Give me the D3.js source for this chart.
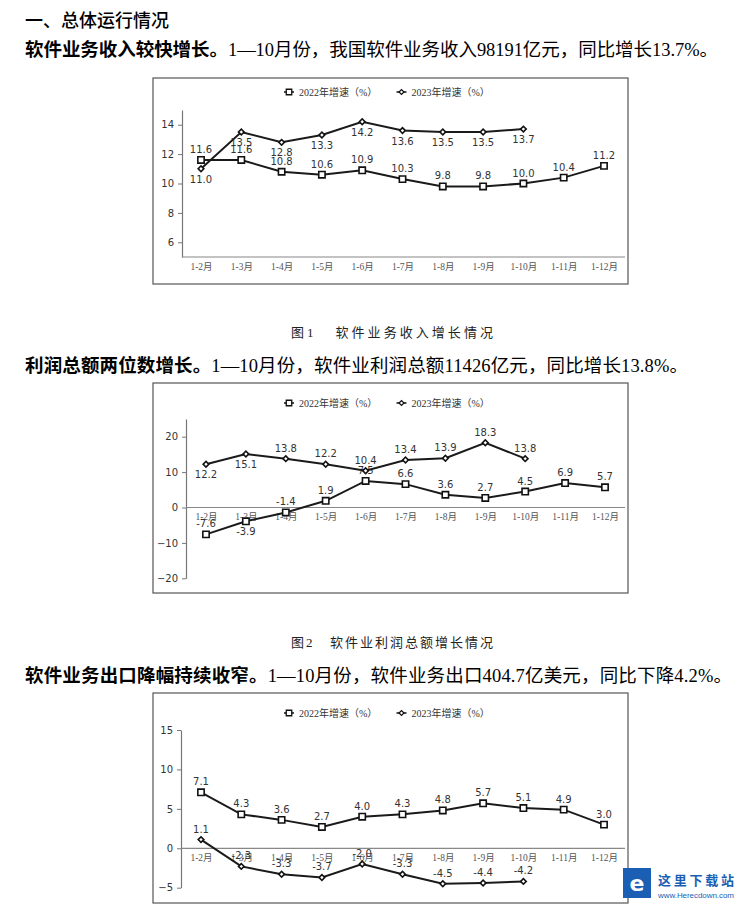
<!DOCTYPE html>
<html>
<head>
<meta charset="utf-8">
<style>
  body { margin: 0; background: #fff; }
  svg text { font-family: "Liberation Serif", "Noto Sans CJK SC", serif; }
</style>
</head>
<body>
<div id="viz"></div>
<script src="https://d3js.org/d3.v7.min.js"></script>
<script>
// data
const months = ["1-2月", "1-3月", "1-4月", "1-5月", "1-6月", "1-7月", "1-8月", "1-9月", "1-10月", "1-11月", "1-12月"];
const seriesNames = ["2022年增速（%）", "2023年增速（%）"];

const revenue2022 = [11.6, 11.6, 10.8, 10.6, 10.9, 10.3, 9.8, 9.8, 10.0, 10.4, 11.2];
const revenue2023 = [11.0, 13.5, 12.8, 13.3, 14.2, 13.6, 13.5, 13.5, 13.7];
const revenueTicks = [6, 8, 10, 12, 14];

const profit2022 = [-7.6, -3.9, -1.4, 1.9, 7.5, 6.6, 3.6, 2.7, 4.5, 6.9, 5.7];
const profit2023 = [12.2, 15.1, 13.8, 12.2, 10.4, 13.4, 13.9, 18.3, 13.8];
const profitTicks = [-20, -10, 0, 10, 20];

const export2022 = [7.1, 4.3, 3.6, 2.7, 4.0, 4.3, 4.8, 5.7, 5.1, 4.9, 3.0];
const export2023 = [1.1, -2.3, -3.3, -3.7, -2.0, -3.3, -4.5, -4.4, -4.2];
const exportTicks = [-5, 0, 5, 10, 15];

const width = 741,
      height = 905;

const svg = d3.select("#viz").append("svg")
    .attr("width", width)
    .attr("height", height);

// headings and captions
function heading(y, bold, rest, len) {
  const t = svg.append("text")
      .attr("x", 25)
      .attr("y", y)
      .attr("font-size", 18.5)
      .attr("fill", "#000");
  if (len) t.attr("textLength", len).attr("lengthAdjust", "spacing");
  t.append("tspan")
      .style("font-family", "Noto Sans CJK SC")
      .attr("font-weight", "bold")
      .text(bold);
  if (rest) t.append("tspan").text(rest);
}

function caption(y, txt) {
  svg.append("text")
      .attr("x", 291)
      .attr("y", y)
      .attr("font-size", 13)
      .attr("fill", "#222")
      .attr("textLength", 202)
      .attr("lengthAdjust", "spacing")
      .attr("xml:space", "preserve")
      .text(txt);
}

svg.append("text")
    .attr("x", 25)
    .attr("y", 27)
    .attr("font-size", 18)
    .style("font-family", "Noto Sans CJK SC")
    .attr("font-weight", 500)
    .text("一、总体运行情况");

heading(56, "软件业务收入较快增长。", "1—10月份，我国软件业务收入98191亿元，同比增长13.7%。", 693);
caption(337, "图1   软件业务收入增长情况");
heading(372, "利润总额两位数增长。", "1—10月份，软件业利润总额11426亿元，同比增长13.8%。", 663);
caption(647, "图2   软件业利润总额增长情况");
heading(682, "软件业务出口降幅持续收窄。", "1—10月份，软件业务出口404.7亿美元，同比下降4.2%。", 707);

function drawChart(c) {
  const g = svg.append("g");

  g.append("rect")
      .attr("x", c.box[0])
      .attr("y", c.box[1])
      .attr("width", c.box[2])
      .attr("height", c.box[3])
      .attr("fill", "none")
      .attr("stroke", "#555")
      .attr("stroke-width", 1.2);

  const x = d3.scalePoint()
      .domain(months)
      .range([c.x0, c.x1]);

  const y = d3.scaleLinear()
      .domain(c.domain)
      .range([c.yBottom, c.yTop]);

  // y axis
  const ya = g.append("g")
      .attr("transform", `translate(${c.axisX},0)`)
      .call(d3.axisLeft(y).tickValues(c.ticks).tickSize(4).tickSizeOuter(0).tickPadding(4).tickFormat(d3.format("d")));
  ya.select(".domain").attr("stroke", "#777").attr("stroke-width", 1.2);
  ya.selectAll(".tick line").attr("stroke", "#777");
  ya.selectAll("text")
      .style("font-family", "DejaVu Sans")
      .attr("font-size", 10)
      .attr("fill", "#333");

  // x axis line at base value
  g.append("line")
      .attr("x1", c.axisX)
      .attr("x2", c.axisEnd)
      .attr("y1", y(c.base))
      .attr("y2", y(c.base))
      .attr("stroke", "#888")
      .attr("stroke-width", 1.2);

  const xa = g.append("g")
      .attr("transform", `translate(0,${y(c.base)})`)
      .call(d3.axisBottom(x).tickSize(0).tickPadding(6));
  xa.select(".domain").remove();
  xa.selectAll("text")
      .style("font-family", "Liberation Serif, Noto Sans CJK SC")
      .attr("font-size", 9.5)
      .attr("fill", "#555");

  const line = d3.line()
      .x((d, i) => x(months[i]))
      .y(d => y(d));

  const series = [
    { values: c.s2022, size: 40, rot: 0, below: c.below2022 },
    { values: c.s2023, size: 16, rot: 45, below: c.below2023 }
  ];

  series.forEach(s => {
    g.append("path")
        .datum(s.values)
        .attr("d", line)
        .attr("fill", "none")
        .attr("stroke", "#1a1a1a")
        .attr("stroke-width", 2);

    g.selectAll(null)
        .data(s.values)
      .enter().append("path")
        .attr("transform", (d, i) => `translate(${x(months[i])},${y(d)}) rotate(${s.rot})`)
        .attr("d", d3.symbol(d3.symbolSquare, s.size))
        .attr("fill", "#fff")
        .attr("stroke", "#111")
        .attr("stroke-width", 1.6);

    g.selectAll(null)
        .data(s.values)
      .enter().append("text")
        .attr("x", (d, i) => x(months[i]))
        .attr("y", (d, i) => s.below.includes(i) ? y(d) + 14 : y(d) - 7)
        .attr("text-anchor", "middle")
        .style("font-family", "DejaVu Sans")
        .attr("font-size", 10)
        .attr("fill", "#333")
        .text(d => d.toFixed(1));
  });

  // legend
  const lg = [{ x: 289, size: 30, rot: 0 }, { x: 401.5, size: 12, rot: 45 }];
  lg.forEach((l, i) => {
    g.append("line")
        .attr("x1", l.x - 5).attr("x2", l.x + 5)
        .attr("y1", c.legendY).attr("y2", c.legendY)
        .attr("stroke", "#111").attr("stroke-width", 1.5);
    g.append("path")
        .attr("transform", `translate(${l.x},${c.legendY}) rotate(${l.rot})`)
        .attr("d", d3.symbol(d3.symbolSquare, l.size))
        .attr("fill", "#fff")
        .attr("stroke", "#111")
        .attr("stroke-width", 1.3);
    g.append("text")
        .attr("x", l.x + 10)
        .attr("y", c.legendY + 3.5)
        .attr("font-size", 10)
        .attr("fill", "#333")
        .text(seriesNames[i]);
  });
}

drawChart({
  box: [153, 78, 475, 206],
  axisX: 182, axisEnd: 625,
  x0: 201, x1: 604,
  domain: [5, 15], yBottom: 257, yTop: 110,
  ticks: revenueTicks, base: 5,
  legendY: 92,
  s2022: revenue2022, s2023: revenue2023,
  below2022: [], below2023: [0, 1, 2, 3, 4, 5, 6, 7, 8]
});

drawChart({
  box: [153, 383, 475, 210],
  axisX: 186, axisEnd: 625,
  x0: 206, x1: 605,
  domain: [-20, 25], yBottom: 578.3, yTop: 419,
  ticks: profitTicks, base: 0,
  legendY: 403,
  s2022: profit2022, s2023: profit2023,
  below2022: [1], below2023: [0, 1]
});

drawChart({
  box: [153, 693, 475, 210],
  axisX: 181, axisEnd: 625,
  x0: 201, x1: 604,
  domain: [-5, 15], yBottom: 887.7, yTop: 730,
  ticks: exportTicks, base: 0,
  legendY: 713,
  s2022: export2022, s2023: export2023,
  below2022: [], below2023: []
});

// watermark
const wm = svg.append("g");
wm.append("rect")
    .attr("x", 623).attr("y", 868)
    .attr("width", 28).attr("height", 30)
    .attr("fill", "#1a5fb4");
wm.append("text")
    .attr("x", 637).attr("y", 891)
    .attr("text-anchor", "middle")
    .style("font-family", "DejaVu Sans")
    .attr("font-weight", "bold")
    .attr("font-size", 22)
    .attr("fill", "#fff")
    .text("e");
wm.append("text")
    .attr("x", 658).attr("y", 885)
    .style("font-family", "Noto Sans CJK SC")
    .attr("font-weight", "bold")
    .attr("font-size", 13)
    .attr("fill", "#1a5fb4")
    .attr("textLength", 76)
    .attr("lengthAdjust", "spacing")
    .text("这里下载站");
wm.append("text")
    .attr("x", 658).attr("y", 898)
    .style("font-family", "Liberation Sans")
    .attr("font-size", 8)
    .attr("fill", "#1a5fb4")
    .attr("textLength", 76)
    .text("www.Herecdown.com");
</script>
</body>
</html>
